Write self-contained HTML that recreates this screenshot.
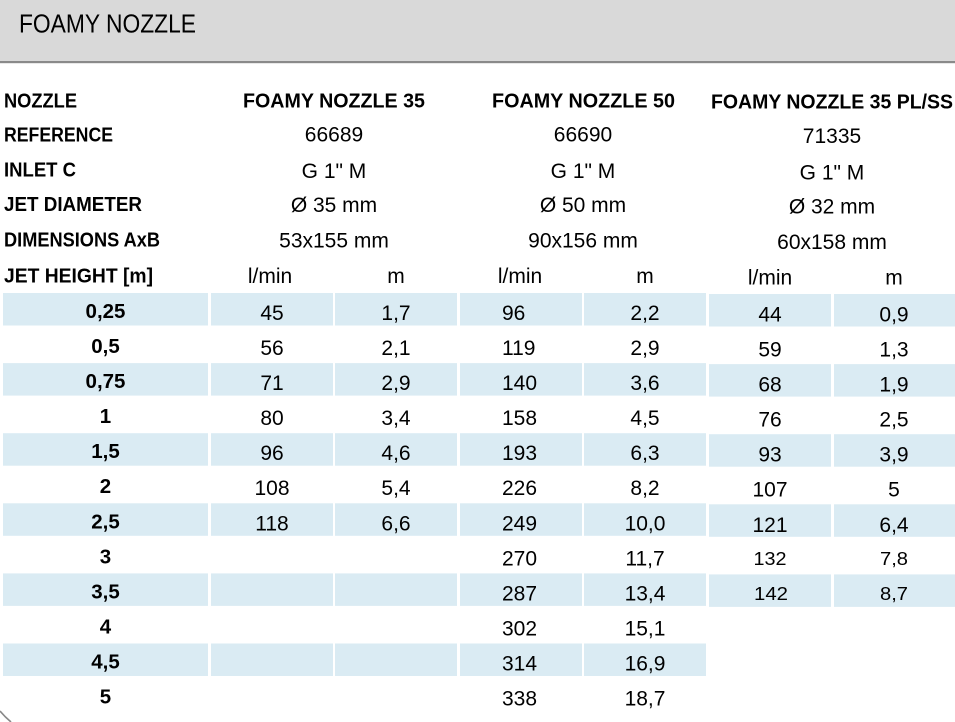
<!DOCTYPE html>
<html>
<head>
<meta charset="utf-8">
<style>
  html,body{margin:0;padding:0;background:#fff;}
  svg{display:block;}
  .t{font-family:"Liberation Sans",Arial,sans-serif;fill:#000;}
  .b{font-weight:bold;font-size:20px;}
  .r{font-weight:bold;font-size:20.5px;}
  .h{font-weight:bold;font-size:20px;}
  .n{font-size:21px;}
  .s{font-size:18px;}
</style>
</head>
<body>
<svg width="955" height="722" viewBox="0 0 955 722" xmlns="http://www.w3.org/2000/svg">
  <rect x="0" y="0" width="955" height="61" fill="#d9d9d9"/>
  <rect x="0" y="61" width="955" height="2.2" fill="#8a8a8a"/>
  <text class="t" x="19" y="32.3" font-size="25.5" textLength="177" lengthAdjust="spacingAndGlyphs" fill="#111">FOAMY NOZZLE</text>

  <!-- blue bands left (cols 1-5) -->
  <g fill="#daebf3">
    <rect x="3" y="293" width="205" height="32.5"/><rect x="211" y="293" width="122" height="32.5"/><rect x="335" y="293" width="122" height="32.5"/><rect x="460" y="293" width="122" height="32.5"/><rect x="584" y="293" width="122" height="32.5"/>
    <rect x="3" y="363.1" width="205" height="32.5"/><rect x="211" y="363.1" width="122" height="32.5"/><rect x="335" y="363.1" width="122" height="32.5"/><rect x="460" y="363.1" width="122" height="32.5"/><rect x="584" y="363.1" width="122" height="32.5"/>
    <rect x="3" y="433.2" width="205" height="32.5"/><rect x="211" y="433.2" width="122" height="32.5"/><rect x="335" y="433.2" width="122" height="32.5"/><rect x="460" y="433.2" width="122" height="32.5"/><rect x="584" y="433.2" width="122" height="32.5"/>
    <rect x="3" y="503.3" width="205" height="32.5"/><rect x="211" y="503.3" width="122" height="32.5"/><rect x="335" y="503.3" width="122" height="32.5"/><rect x="460" y="503.3" width="122" height="32.5"/><rect x="584" y="503.3" width="122" height="32.5"/>
    <rect x="3" y="573.4" width="205" height="32.5"/><rect x="211" y="573.4" width="122" height="32.5"/><rect x="335" y="573.4" width="122" height="32.5"/><rect x="460" y="573.4" width="122" height="32.5"/><rect x="584" y="573.4" width="122" height="32.5"/>
    <rect x="3" y="643.5" width="205" height="32.5"/><rect x="211" y="643.5" width="122" height="32.5"/><rect x="335" y="643.5" width="122" height="32.5"/><rect x="460" y="643.5" width="122" height="32.5"/><rect x="584" y="643.5" width="122" height="32.5"/>
    <rect x="709" y="294" width="122" height="32.5"/><rect x="834" y="294" width="121" height="32.5"/>
    <rect x="709" y="364.1" width="122" height="32.5"/><rect x="834" y="364.1" width="121" height="32.5"/>
    <rect x="709" y="434.2" width="122" height="32.5"/><rect x="834" y="434.2" width="121" height="32.5"/>
    <rect x="709" y="504.3" width="122" height="32.5"/><rect x="834" y="504.3" width="121" height="32.5"/>
    <rect x="709" y="574.4" width="122" height="32.5"/><rect x="834" y="574.4" width="121" height="32.5"/>
  </g>

  <!-- header rows labels -->
  <g class="t b">
    <text x="4" y="107.3" textLength="73" lengthAdjust="spacingAndGlyphs">NOZZLE</text>
    <text x="4" y="141.7" textLength="109" lengthAdjust="spacingAndGlyphs">REFERENCE</text>
    <text x="4" y="176.7" textLength="72" lengthAdjust="spacingAndGlyphs">INLET C</text>
    <text x="4" y="211" textLength="138" lengthAdjust="spacingAndGlyphs">JET DIAMETER</text>
    <text x="4" y="246.5" textLength="156" lengthAdjust="spacingAndGlyphs">DIMENSIONS AxB</text>
    <text x="4" y="282.5" textLength="149" lengthAdjust="spacingAndGlyphs">JET HEIGHT [m]</text>
  </g>
  <g class="t h">
    <text x="243" y="107.3" textLength="182" lengthAdjust="spacingAndGlyphs">FOAMY NOZZLE 35</text>
    <text x="492" y="107.3" textLength="183" lengthAdjust="spacingAndGlyphs">FOAMY NOZZLE 50</text>
    <text x="711" y="108.3" textLength="242" lengthAdjust="spacingAndGlyphs">FOAMY NOZZLE 35 PL/SS</text>
  </g>
  <g class="t n" text-anchor="middle">
    <text x="334" y="141.7">66689</text>
    <text x="583" y="141.7">66690</text>
    <text x="832" y="143.2">71335</text>
    <text x="334" y="178">G 1" M</text>
    <text x="583" y="178">G 1" M</text>
    <text x="832" y="179.5">G 1" M</text>
    <text x="334" y="212">Ø 35 mm</text>
    <text x="583" y="212">Ø 50 mm</text>
    <text x="832" y="213.5">Ø 32 mm</text>
    <text x="334" y="247.5">53x155 mm</text>
    <text x="583" y="247.5">90x156 mm</text>
    <text x="832" y="249">60x158 mm</text>
    <text x="270" y="283">l/min</text>
    <text x="396" y="283">m</text>
    <text x="520" y="283">l/min</text>
    <text x="645" y="283">m</text>
    <text x="770" y="284.5">l/min</text>
    <text x="894" y="284.5">m</text>
  </g>

  <!-- row labels -->
  <g class="t r" text-anchor="middle">
    <text x="105.5" y="318">0,25</text>
    <text x="105.5" y="353">0,5</text>
    <text x="105.5" y="388.1">0,75</text>
    <text x="105.5" y="423.1">1</text>
    <text x="105.5" y="458.2">1,5</text>
    <text x="105.5" y="493.2">2</text>
    <text x="105.5" y="528.3">2,5</text>
    <text x="105.5" y="563.3">3</text>
    <text x="105.5" y="598.4">3,5</text>
    <text x="105.5" y="633.4">4</text>
    <text x="105.5" y="668.5">4,5</text>
    <text x="105.5" y="703.5">5</text>
  </g>

  <!-- col 2 & 3 -->
  <g class="t n" text-anchor="middle">
    <text x="272" y="320">45</text><text x="396" y="320">1,7</text>
    <text x="272" y="355">56</text><text x="396" y="355">2,1</text>
    <text x="272" y="390.1">71</text><text x="396" y="390.1">2,9</text>
    <text x="272" y="425.1">80</text><text x="396" y="425.1">3,4</text>
    <text x="272" y="460.2">96</text><text x="396" y="460.2">4,6</text>
    <text x="272" y="495.2">108</text><text x="396" y="495.2">5,4</text>
    <text x="272" y="530.3">118</text><text x="396" y="530.3">6,6</text>
  </g>

  <!-- col 4 (left aligned) -->
  <g class="t n">
    <text x="502" y="320">96</text>
    <text x="502" y="355">119</text>
    <text x="502" y="390.1">140</text>
    <text x="502" y="425.1">158</text>
    <text x="502" y="460.2">193</text>
    <text x="502" y="495.2">226</text>
    <text x="502" y="530.3">249</text>
    <text x="502" y="565.3">270</text>
    <text x="502" y="600.4">287</text>
    <text x="502" y="635.4">302</text>
    <text x="502" y="670.5">314</text>
    <text x="502" y="705.5">338</text>
  </g>
  <!-- col 5 -->
  <g class="t n" text-anchor="middle">
    <text x="645" y="320">2,2</text>
    <text x="645" y="355">2,9</text>
    <text x="645" y="390.1">3,6</text>
    <text x="645" y="425.1">4,5</text>
    <text x="645" y="460.2">6,3</text>
    <text x="645" y="495.2">8,2</text>
    <text x="645" y="530.3">10,0</text>
    <text x="645" y="565.3">11,7</text>
    <text x="645" y="600.4">13,4</text>
    <text x="645" y="635.4">15,1</text>
    <text x="645" y="670.5">16,9</text>
    <text x="645" y="705.5">18,7</text>
  </g>

  <!-- col 6 & 7 -->
  <g class="t n" text-anchor="middle">
    <text x="770" y="321.5">44</text><text x="894" y="321.5">0,9</text>
    <text x="770" y="356.5">59</text><text x="894" y="356.5">1,3</text>
    <text x="770" y="391.6">68</text><text x="894" y="391.6">1,9</text>
    <text x="770" y="426.6">76</text><text x="894" y="426.6">2,5</text>
    <text x="770" y="461.7">93</text><text x="894" y="461.7">3,9</text>
    <text x="770" y="496.7">107</text><text x="894" y="496.7">5</text>
    <text x="770" y="531.8">121</text><text x="894" y="531.8">6,4</text>
  </g>
  <g class="t s">
    <text x="753.5" y="565" textLength="33" lengthAdjust="spacingAndGlyphs">132</text>
    <text x="880" y="565" textLength="28" lengthAdjust="spacingAndGlyphs">7,8</text>
    <text x="754" y="600" textLength="34" lengthAdjust="spacingAndGlyphs">142</text>
    <text x="880" y="600" textLength="28" lengthAdjust="spacingAndGlyphs">8,7</text>
  </g>

  <path d="M0,711 Q5,717 11,722" fill="none" stroke="#888" stroke-width="1.6"/>
</svg>
</body>
</html>
